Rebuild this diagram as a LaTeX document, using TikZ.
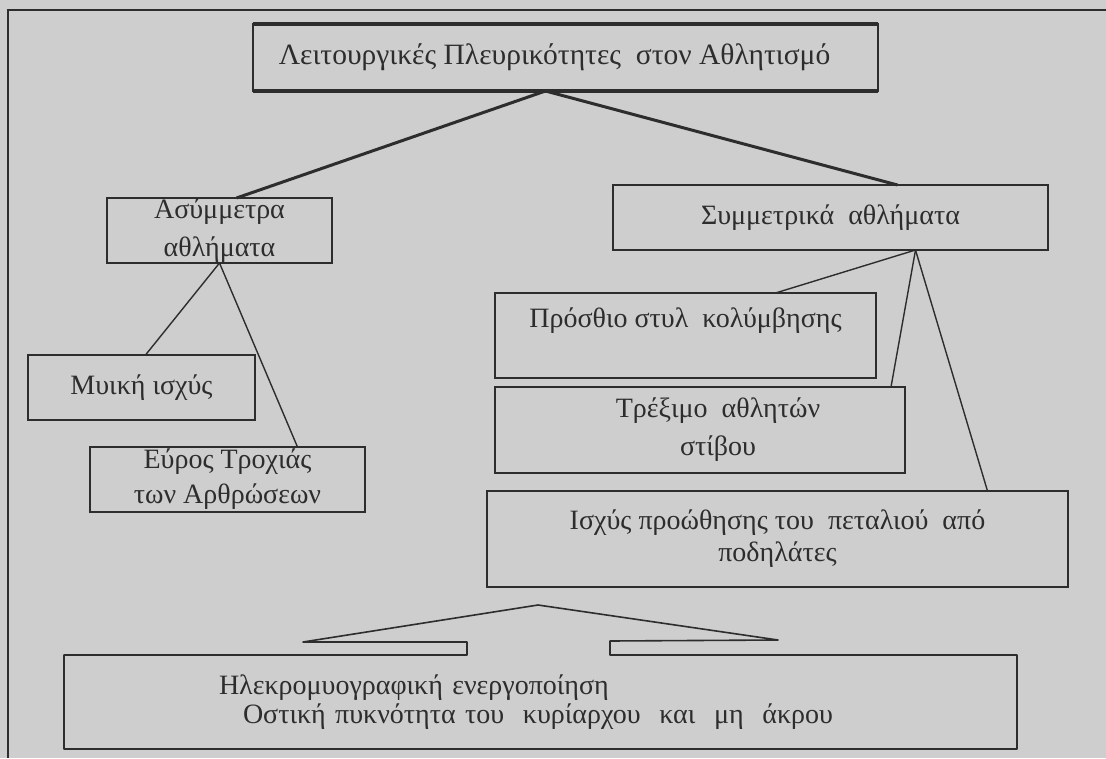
\documentclass[tikz,border=0pt]{standalone}
\usepackage{fontspec}
\setmainfont{Liberation Serif}
\definecolor{paper}{RGB}{206,206,206}
\definecolor{ink}{RGB}{45,45,45}

\begin{document}
\begin{tikzpicture}[x=1pt, y=-1pt,
  box/.style={draw=ink, line width=1.6pt, inner sep=0pt, outer sep=0pt, align=center, text=ink, font=\fontsize{28}{36}\selectfont},
  link/.style={draw=ink, line width=1.4pt},
  mainlink/.style={draw=ink, line width=3pt}]
\useasboundingbox (0,0) rectangle (1106,758);
\fill[paper] (0,0) rectangle (1106,758);
\draw[ink, line width=1.2pt] (1106,10) -- (8,10) -- (8,758);

\node[box, minimum width=625pt, minimum height=67pt, font=\fontsize{29.5}{36}\selectfont] (sports) at (565.5,57.5) {\hspace*{-22pt}Λειτουργικές Πλευρικότητες~~στον Αθλητισμό};
\draw[ink, line width=4pt] (sports.north west) -- (sports.north east) (sports.south west) -- (sports.south east);

\node[box, minimum width=225pt, minimum height=65pt, font=\fontsize{28}{38}\selectfont] (asym) at (219.5,230.5) {Ασύμμετρα\\αθλήματα};
\node[box, minimum width=435pt, minimum height=65pt] (sym) at (830.5,217.5) {Συμμετρικά~~αθλήματα};
\node[box, minimum width=227pt, minimum height=65pt] (muscle) at (141.5,387.5) {Μυική ισχύς};
\node[box, minimum width=275pt, minimum height=65pt, font=\fontsize{28}{35}\selectfont] (range) at (227.5,479.5) {Εύρος Τροχιάς\\των Αρθρώσεων};
\node[box, minimum width=381pt, minimum height=85pt] (swim) at (685.5,335.5) {Πρόσθιο στυλ~~κολύμβησης\\\mbox{}};
\node[box, minimum width=410pt, minimum height=86pt, font=\fontsize{28}{38}\selectfont] (run) at (700,430) {\hspace*{36pt}Τρέξιμο~~αθλητών\\\hspace*{36pt}στίβου};
\node[box, minimum width=581pt, minimum height=96pt, font=\fontsize{28}{32}\selectfont] (cycle) at (777.5,539) {Ισχύς προώθησης του~~πεταλιού~~από\\ποδηλάτες};
\node[box, draw=none, inner xsep=155pt, text width=643pt, minimum height=94pt, align=left, font=\fontsize{28}{29}\selectfont] (emg) at (540.5,702) {Ηλεκρομυογραφική ενεργοποίηση\\\hspace*{24pt}Οστική πυκνότητα του~~κυρίαρχου~~και~~μη~~άκρου};

\coordinate (peak) at (538,605);
\draw[ink, line width=1.6pt, line join=round] (467,655) -- (emg.north west) -- (emg.south west) -- (emg.south east) -- (emg.north east) -- (610,655) -- (610,641) -- (778,640) -- (peak) -- (303,642) -- (467,642) -- cycle;

\draw[mainlink] ([xshift=-20pt]sports.south) -- ([xshift=17pt]asym.north);
\draw[mainlink] ([xshift=-20pt]sports.south) -- ([xshift=67pt]sym.north);
\draw[link] (asym.south) -- ([xshift=4pt]muscle.north);
\draw[link] (asym.south) -- ([xshift=70pt]range.north);
\draw[link] ([xshift=85pt]sym.south) -- ([xshift=90pt]swim.north);
\draw[link] ([xshift=85pt]sym.south) -- ([xshift=-14pt]run.north east);
\draw[link] ([xshift=85pt]sym.south) -- ([xshift=210pt]cycle.north);
\end{tikzpicture}
\end{document}
